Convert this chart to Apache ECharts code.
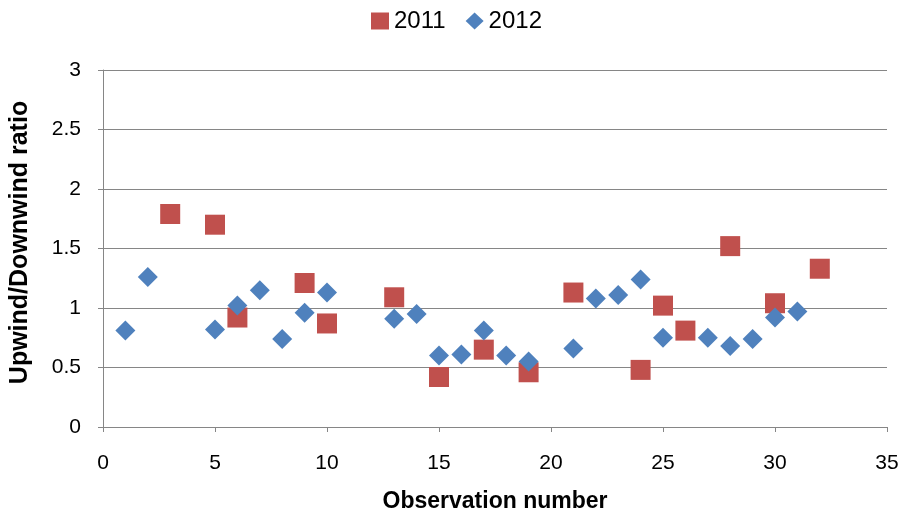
<!DOCTYPE html>
<html>
<head>
<meta charset="utf-8">
<script src="https://cdn.jsdelivr.net/npm/echarts@6/dist/echarts.min.js"></script>
<style>
html,body{margin:0;padding:0;background:#fff;}
#chart{width:902px;height:518px;}
</style>
</head>
<body>
<div id="chart"></div>
<script>
// Data
const obs2011 = [3, 5, 6, 9, 10, 13, 15, 17, 19, 21, 24, 25, 26, 28, 30, 32];
const ratio2011 = [1.79, 1.70, 0.92, 1.21, 0.87, 1.09, 0.42, 0.65, 0.46, 1.13, 0.48, 1.02, 0.81, 1.52, 1.04, 1.33];
const obs2012 = [1, 2, 5, 6, 7, 8, 9, 10, 13, 14, 15, 16, 17, 18, 19, 21, 22, 23, 24, 25, 27, 28, 29, 30, 31];
const ratio2012 = [0.81, 1.26, 0.82, 1.02, 1.15, 0.74, 0.96, 1.13, 0.91, 0.95, 0.60, 0.61, 0.81, 0.60, 0.55, 0.66, 1.08, 1.11, 1.24, 0.75, 0.75, 0.68, 0.74, 0.92, 0.97];
const seriesNames = ['2011', '2012'];
const xTitle = 'Observation number';
const yTitle = 'Upwind/Downwind ratio';

const FONT = '"Liberation Sans", Arial, sans-serif';
const pairs = (xs, ys) => xs.map((x, i) => [x, ys[i]]);

const chart = echarts.init(document.getElementById('chart'), null, {renderer: 'canvas'});
chart.setOption({
  animation: false,
  backgroundColor: '#ffffff',
  textStyle: {fontFamily: FONT},
  legend: {
    top: 4,
    left: 366,
    itemGap: 20,
    itemWidth: 18,
    itemHeight: 17,
    textStyle: {fontSize: 24, color: '#000', fontFamily: FONT},
    data: [
      {name: seriesNames[0], icon: 'rect'},
      {name: seriesNames[1], icon: 'diamond'}
    ]
  },
  grid: {left: 101, right: 15, top: 70, bottom: 89, containLabel: false},
  xAxis: {
    type: 'value',
    min: 0, max: 35, interval: 5,
    name: xTitle,
    nameLocation: 'middle',
    nameGap: 63,
    nameTextStyle: {fontSize: 23, fontWeight: 'bold', color: '#000', fontFamily: FONT},
    axisLine: {show: true, lineStyle: {color: '#868686', width: 1}},
    axisTick: {show: true, length: 5, lineStyle: {color: '#868686'}},
    axisLabel: {fontSize: 21, color: '#000', margin: 26, fontFamily: FONT},
    splitLine: {show: false}
  },
  yAxis: {
    type: 'value',
    min: 0, max: 3, interval: 0.5,
    name: yTitle,
    nameLocation: 'middle',
    nameGap: 70,
    nameTextStyle: {fontSize: 25, fontWeight: 'bold', color: '#000', fontFamily: FONT, padding: [0, 0, 0, 12]},
    axisLine: {show: true, lineStyle: {color: '#868686', width: 1}},
    axisTick: {show: true, length: 5, lineStyle: {color: '#868686'}},
    axisLabel: {fontSize: 21, color: '#000', margin: 22, fontFamily: FONT},
    splitLine: {show: true, lineStyle: {color: '#868686', width: 1}}
  },
  series: [
    {
      name: seriesNames[0],
      type: 'scatter',
      symbol: 'rect',
      symbolSize: 20,
      itemStyle: {color: '#C0504D', opacity: 1},
      data: pairs(obs2011, ratio2011),
      z: 2
    },
    {
      name: seriesNames[1],
      type: 'scatter',
      symbol: 'diamond',
      symbolSize: 20,
      itemStyle: {color: '#4F81BD', opacity: 1},
      data: pairs(obs2012, ratio2012),
      z: 3
    }
  ]
});
</script>
</body>
</html>
